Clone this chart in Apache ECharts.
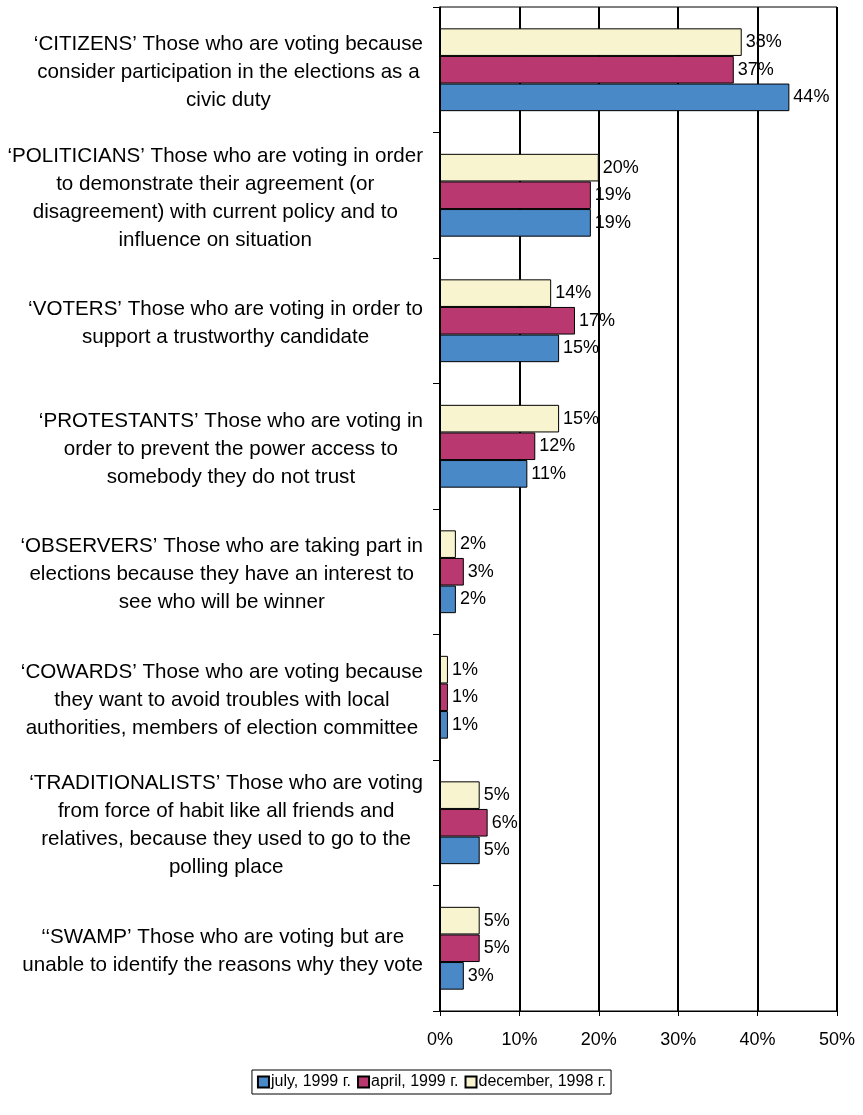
<!DOCTYPE html>
<html>
<head>
<meta charset="utf-8">
<script src="https://cdn.jsdelivr.net/npm/echarts@6/dist/echarts.min.js"></script>
<style>html,body{margin:0;padding:0;background:#fff;}#c{width:863px;height:1115px;}</style>
</head>
<body>
<div id="c"></div>
<script>
var categories = [
  "‘CITIZENS’ Those who are voting because\nconsider participation in the elections as a\ncivic duty",
  "‘POLITICIANS’ Those who are voting in order\nto demonstrate their agreement (or\ndisagreement) with current policy and to\ninfluence on situation",
  "‘VOTERS’ Those who are voting in order to\nsupport a trustworthy candidate",
  "‘PROTESTANTS’ Those who are voting in\norder to prevent the power access to\nsomebody they do not trust",
  "‘OBSERVERS’ Those who are taking part in\nelections because they have an interest to\nsee who will be winner",
  "‘COWARDS’ Those who are voting because\nthey want to avoid troubles with local\nauthorities, members of election committee",
  "‘TRADITIONALISTS’ Those who are voting\nfrom force of habit like all friends and\nrelatives, because they used to go to the\npolling place",
  "‘‘SWAMP’ Those who are voting but are\nunable to identify the reasons why they vote"
];
var seriesNames = ["july, 1999 г.", "april, 1999 г.", "december, 1998 г."];
var july1999 = [44, 19, 15, 11, 2, 1, 5, 3];
var april1999 = [37, 19, 17, 12, 3, 1, 6, 5];
var dec1998 = [38, 20, 14, 15, 2, 1, 5, 5];
var xTicks = [0, 10, 20, 30, 40, 50];

var colors = ["#4A89C7", "#B93870", "#F8F4D0"];
var font = "Liberation Sans, Arial, sans-serif";

function mk(name, data, color) {
  return {
    name: name, type: "bar", data: data,
    barGap: "0%", barCategoryGap: "34%",
    itemStyle: { color: color, borderColor: "#000", borderWidth: 1 },
    label: { show: true, position: "right", distance: 4, formatter: "{c}%",
      color: "#000", fontFamily: font, fontSize: 18 }
  };
}

var chart = echarts.init(document.getElementById("c"), null, { renderer: "canvas" });
chart.setOption({
  animation: false,
  backgroundColor: "#fff",
  grid: { left: 440, right: 26, top: 7, bottom: 104, show: true, borderColor: "#000", borderWidth: 1,
    containLabel: false, outerBoundsMode: "none" },
  legend: {
    data: seriesNames, left: "center", top: 1070, icon: "rect",
    orient: "horizontal", itemWidth: 11, itemHeight: 11, itemGap: 6,
    borderColor: "#000", borderWidth: 1, padding: [4, 5, 4, 5],
    textStyle: { color: "#000", fontFamily: font, fontSize: 16, padding: [0, 0, 0, -3] }
  },
  xAxis: {
    type: "value", min: xTicks[0], max: xTicks[xTicks.length - 1], interval: 10,
    axisLine: { show: true, lineStyle: { color: "#000", width: 1 } },
    axisTick: { show: true, length: 5, lineStyle: { color: "#000" } },
    splitLine: { show: true, lineStyle: { color: "#000", width: 2 } },
    axisLabel: { formatter: "{value}%", color: "#000", fontFamily: font, fontSize: 18, margin: 20 }
  },
  yAxis: {
    type: "category", data: categories, inverse: true,
    axisLine: { show: true, lineStyle: { color: "#000", width: 1.5 } },
    axisTick: { show: true, length: 7, lineStyle: { color: "#000" } },
    axisLabel: {
      margin: 17, color: "#000", fontFamily: font, fontSize: 20.6, lineHeight: 28,
      padding: [6, 0, 0, 0],
      formatter: function (v) { return "{c|" + v + "}"; },
      rich: { c: { align: "center", fontFamily: font, fontSize: 20.6, lineHeight: 28, color: "#000" } }
    }
  },
  series: [mk(seriesNames[2], dec1998, colors[2]), mk(seriesNames[1], april1999, colors[1]), mk(seriesNames[0], july1999, colors[0])]
});
</script>
</body>
</html>
